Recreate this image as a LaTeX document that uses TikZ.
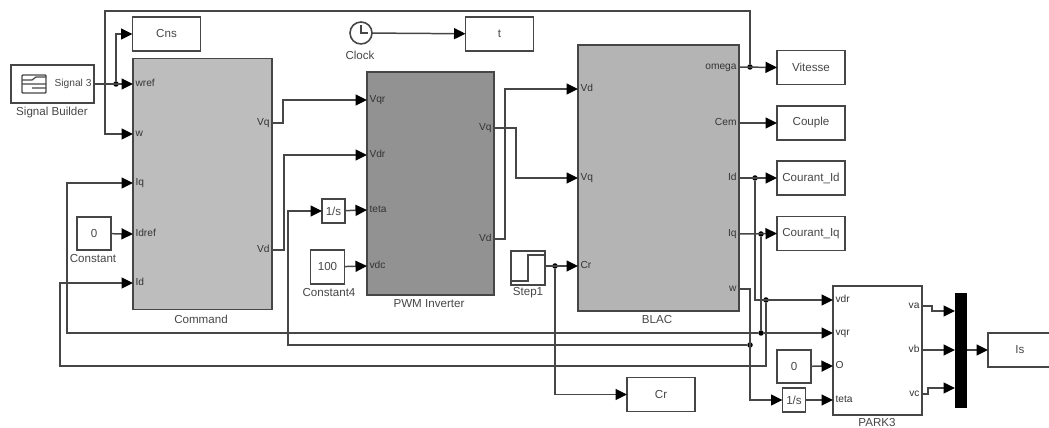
\documentclass[tikz,border=0pt]{standalone}
\usepackage{fontspec}
\setmainfont{Liberation Sans}
\usepackage{xcolor}
\usetikzlibrary{arrows.meta,positioning}
\definecolor{inkc}{RGB}{70,70,70}
\definecolor{cmdc}{RGB}{189,189,189}
\definecolor{pwmc}{RGB}{146,146,146}
\definecolor{blacc}{RGB}{180,180,180}

\begin{document}
\begin{tikzpicture}[
  x=0.02cm, y=-0.02cm,
  >={Triangle[length=2.3mm,width=2.2mm,color=black]},
  every node/.style={font=\fontsize{6.6}{8}\selectfont, text=inkc, outer sep=0pt},
  blk/.style={rectangle, draw=inkc, line width=0.9pt, inner sep=0pt},
  sink/.style={blk, minimum width=1.36cm, minimum height=0.68cm},
  const/.style={blk, minimum width=0.68cm, minimum height=0.67cm},
  integ/.style={blk, minimum width=0.46cm, minimum height=0.47cm},
  portin/.style={anchor=west, inner xsep=0.05cm, inner ysep=0pt,
                 font=\fontsize{5.8}{7}\selectfont, text=black!80,
                 text height=4.2pt, text depth=0.8pt},
  portout/.style={portin, anchor=east},
  capt/.style={inner sep=0pt},
  wire/.style={draw=inkc, line width=0.85pt},
  feed/.style={wire, ->},
  jn/.style={circle, fill=black, inner sep=0pt, minimum size=0.11cm},
]
\clip (0,0) rectangle (1049,428);

% Main blocks
\node[blk, fill=cmdc, minimum width=2.78cm, minimum height=5.02cm] (command) at (202.5,184) {};
\node[blk, fill=pwmc, minimum width=2.54cm, minimum height=4.46cm] (pwm) at (430.5,183.5) {};
\node[blk, fill=blacc, minimum width=3.22cm, minimum height=5.32cm] (blac) at (658.5,178) {};
\node[blk, minimum width=1.78cm, minimum height=2.58cm] (park) at (877.5,350.5) {};
\node[capt] (commandlbl) at (201,319) {Command};
\node[capt] (pwmlbl) at (429,304) {PWM Inverter};
\node[capt] (blaclbl) at (657,320) {BLAC};
\node[capt] (parklbl) at (877,423) {PARK3};

% Ports
\node[portin] (cmdwref) at (133,84) {wref};
\node[portin] (cmdw) at (133,134) {w};
\node[portin] (cmdiq) at (133,183) {Iq};
\node[portin] (cmdidref) at (133,234) {Idref};
\node[portin] (cmdid) at (133,283) {Id};
\node[portout] (cmdvq) at (272,123) {Vq};
\node[portout] (cmdvd) at (272,250) {Vd};
\node[portin] (pwmvqr) at (367,100) {Vqr};
\node[portin] (pwmvdr) at (367,155) {Vdr};
\node[portin] (pwmteta) at (367,210) {teta};
\node[portin] (pwmvdc) at (367,266) {vdc};
\node[portout] (pwmvq) at (494,128) {Vq};
\node[portout] (pwmvd) at (494,239) {Vd};
\node[portin] (blacvd) at (578,89) {Vd};
\node[portin] (blacvq) at (578,178) {Vq};
\node[portin] (blaccr) at (578,266) {Cr};
\node[portout] (blacomega) at (739,67) {omega};
\node[portout] (blaccem) at (739,123) {Cem};
\node[portout] (blacid) at (739,178) {Id};
\node[portout] (blaciq) at (739,234) {Iq};
\node[portout] (blacw) at (739,289) {w};
\node[portin] (parkvdr) at (833,300) {vdr};
\node[portin] (parkvqr) at (833,333) {vqr};
\node[portin] (parko) at (833,366) {O};
\node[portin] (parkteta) at (833,400) {teta};
\node[portout] (parkva) at (922,306) {va};
\node[portout] (parkvb) at (922,350) {vb};
\node[portout] (parkvc) at (922,394) {vc};

% Sources
\node[blk, minimum width=1.66cm, minimum height=0.76cm] (sigbuild) at (52.5,84) {};
\node[anchor=east, inner xsep=0.05cm, font=\fontsize{5.8}{7}\selectfont] (sigout) at (94,84) {Signal 3};
\node[capt] (sigbuildlbl) at (52,113) {Signal Builder};
\draw[inkc, line width=0.8pt, rounded corners=0.5pt] (22,75) rectangle (46,93);
\draw[inkc, line width=0.7pt] (22,84) -- (46,84) (22,80) -- (32,80) -- (36,77) -- (46,77) (32,88) -- (46,88);
\node[const] (const0) at (94,233.5) {0};
\node[capt] (const0lbl) at (93,259) {Constant};
\node[const] (const100) at (327.5,267) {100};
\node[capt] (const100lbl) at (329,293) {Constant4};
\node[const] (const0b) at (794,366.5) {0};
\node[integ] (intega) at (333.5,211) {1/s};
\node[integ] (integb) at (794,400) {1/s};
\node[blk, minimum width=0.68cm, minimum height=0.68cm] (stepsrc) at (528,268) {};
\node[capt] (stepsrclbl) at (528,293) {Step1};
\draw[inkc, line width=1pt] (511,281) -- (528,281) -- (528,255) -- (545,255);
\node[circle, draw=inkc, line width=0.9pt, minimum size=0.44cm, inner sep=0pt] (clock) at (361,33) {};
\draw[inkc, line width=0.8pt] (361,25) -- (clock.center) -- (368,33);
\node[capt] (clocklbl) at (360,55) {Clock};

% Sinks
\node[sink] (cns) at (166.5,34) {Cns};
\node[sink] (tsink) at (499.5,34) {t};
\node[sink] (vitesse) at (811,67.5) {Vitesse};
\node[sink] (couple) at (811,123) {Couple};
\node[sink] (courantid) at (811,178) {Courant\_Id};
\node[sink] (courantiq) at (811,233.5) {Courant\_Iq};
\node[sink] (crsink) at (661,394.5) {Cr};
\node[blk, minimum width=1.28cm, minimum height=0.68cm] (issink) at (1020,350) {Is};

% Mux
\node[rectangle, fill=black, minimum width=0.24cm, minimum height=2.3cm, inner sep=0pt] (mux) at (961,350.5) {};
\coordinate (muxa) at (955,311);
\coordinate (muxc) at (955,388);

% Junctions
\node[jn] (jsig) at (116,84) {};
\node[jn] (jstep) at (555,266) {};
\node[jn] (jomega) at (750,67) {};
\node[jn] (jid) at (755,178) {};
\node[jn] (jiq) at (761,234) {};
\node[jn] (jvdr) at (766,300) {};
\node[jn] (jvqr) at (761,333) {};
\node[jn] (jw) at (750,345) {};

% Wires
\draw[feed] (sigout.east) -- (cmdwref.west);
\draw[feed] (jsig) |- (cns.west);
\draw[feed] (jomega) -- (750,11) -- (105,11) |- (cmdw.west);
\draw[feed] (jvqr) -- (67,333) |- (cmdiq.west);
\draw[feed] (const0) -- (cmdidref.west);
\draw[feed] (jvdr) |- (60,366) |- (cmdid.west);
\draw[feed] (cmdvq.east) -- (283,123) |- (pwmvqr.west);
\draw[feed] (cmdvd.east) -- (284,250) |- (pwmvdr.west);
\draw[feed] (jw) -- (288,345) |- (intega.west);
\draw[feed] (intega) -- (pwmteta.west);
\draw[feed] (const100) -- (pwmvdc.west);
\draw[feed] (clock) -- (tsink);
\draw[feed] (pwmvq.east) -- (516,128) |- (blacvq.west);
\draw[feed] (pwmvd.east) -- (505,239) |- (blacvd.west);
\draw[feed] (stepsrc.east |- blaccr) -- (blaccr.west);
\draw[feed] (jstep) |- (crsink.west);
\draw[feed] (blacomega.east) -- (vitesse.west);
\draw[feed] (blaccem.east) -- (couple.west);
\draw[feed] (blacid.east) -- (courantid.west);
\draw[feed] (blaciq.east) -- (courantiq.west);
\draw[feed] (jid) |- (parkvdr.west);
\draw[wire] (jiq) -- (jvqr);
\draw[feed] (jvqr) -- (parkvqr.west);
\draw[feed] (blacw.east) -- (750,289) |- (integb.west);
\draw[feed] (const0b) -- (parko.west);
\draw[feed] (integb) -- (parkteta.west);
\draw[feed] (parkva.east) -- (932,306) |- (muxa);
\draw[feed] (parkvb.east) -- (mux.west |- parkvb);
\draw[feed] (parkvc.east) -- (928,394) |- (muxc);
\draw[feed] (mux.east |- issink) -- (issink.west);
\end{tikzpicture}
\end{document}
